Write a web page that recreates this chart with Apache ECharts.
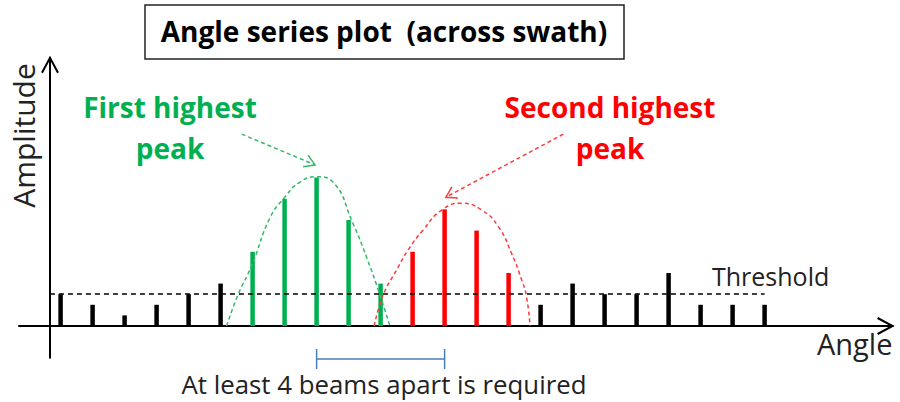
<!DOCTYPE html>
<html>
<head>
<meta charset="utf-8">
<script src="https://cdn.jsdelivr.net/npm/echarts@6/dist/echarts.min.js"></script>
<style>
html,body{margin:0;padding:0;background:#fff;}
#chart{width:900px;height:402px;}
</style>
</head>
<body>
<div id="chart"></div>
<script>
// ---------- data ----------
const beams = [1,2,3,4,5,6,7,8,9,10,11,12,13,14,15,16,17,18,19,20,21,22,23];
const amplitudes = [3,2,1,2,3,4,7,12,14,10,4,7,11,9,5,2,4,3,3,5,2,2,2];
const firstPeakBeams = [7,8,9,10,11];
const secondPeakBeams = [12,13,14,15];
const threshold = 3;
const thresholdFrom = 0.667;   // y-axis crossing, in beam units
const thresholdTo = 23;
const firstEnvelopeX = [6.19, 6.54, 6.98, 7.54, 8.01, 8.48, 9.0, 9.51, 10.13, 10.57, 10.98, 11.29];
const firstEnvelopeY = [0, 2.92, 5.75, 10.19, 12.17, 13.58, 14.08, 13.58, 9.72, 6.42, 2.92, 0];
const secondEnvelopeX = [10.80, 11.08, 11.50, 11.86, 12.33, 12.91, 13.53, 14.16, 14.68, 15.09, 15.41, 15.56, 15.67];
const secondEnvelopeY = [0, 2.92, 5.28, 7.17, 9.06, 10.94, 11.58, 10.94, 9.37, 6.86, 4.34, 2.76, 0];
const separationBeams = [9, 13];
const firstArrow = [[6.66, 18.1], [8.95, 15.2]];
const secondArrow = [[16.71, 18.1], [13.04, 12.15]];

const titleText = 'Angle series plot  (across swath)';
const firstLabel = ['First highest', 'peak'];
const secondLabel = ['Second highest', 'peak'];
const xName = 'Angle';
const yName = 'Amplitude';
const thresholdName = 'Threshold';
const separationText = 'At least 4 beams apart is required';

// ---------- styles ----------
const GREEN = '#00B050';
const GREEN_DASH = '#2FBA68';
const RED = '#FF0000';
const RED_DASH = '#FF3A3A';
const BLUE = '#4A7EBB';
const FONT = '"Open Sans", Lato, sans-serif';

const barData = beams.map((b, i) => {
  let color = '#000';
  if (firstPeakBeams.includes(b)) color = GREEN;
  if (secondPeakBeams.includes(b)) color = RED;
  return { value: [b, amplitudes[i]], itemStyle: { color } };
});

const chart = echarts.init(document.getElementById('chart'), null, { renderer: 'svg' });

const option = {
  animation: false,
  backgroundColor: '#fff',
  grid: { left: 19, top: 57.8, width: 873.6, height: 300, containLabel: false },
  xAxis: {
    type: 'value', min: -0.3, max: 27,
    axisLine: { show: true, onZero: true, lineStyle: { color: '#000', width: 2 } },
    axisTick: { show: false }, axisLabel: { show: false }, splitLine: { show: false }
  },
  yAxis: {
    type: 'value', min: -3, max: 25.3, offset: -31,
    axisLine: { show: true, onZero: false, lineStyle: { color: '#000', width: 2 } },
    axisTick: { show: false }, axisLabel: { show: false }, splitLine: { show: false }
  },
  series: [
    {
      type: 'bar', data: barData, barWidth: 4.5, z: 3,
      markLine: {
        silent: true, symbol: ['none', 'none'], label: { show: false },
        lineStyle: { color: '#000', type: [5, 4], width: 1.5 },
        data: [[{ coord: [thresholdFrom, threshold] }, { coord: [thresholdTo, threshold] }]]
      }
    },
    {
      type: 'line', smooth: 0.5, showSymbol: false, z: 4,
      data: firstEnvelopeX.map((x, i) => [x, firstEnvelopeY[i]]),
      lineStyle: { color: GREEN_DASH, type: [4, 3], width: 1.5 }
    },
    {
      type: 'line', smooth: 0.5, showSymbol: false, z: 4,
      data: secondEnvelopeX.map((x, i) => [x, secondEnvelopeY[i]]),
      lineStyle: { color: RED_DASH, type: [4, 3], width: 1.5 }
    }
  ]
};
chart.setOption(option);

const px = (p) => chart.convertToPixel({ gridIndex: 0 }, p);

function arrowHead(tip, from, len, ang) {
  const dx = from[0] - tip[0], dy = from[1] - tip[1];
  const a = Math.atan2(dy, dx);
  return [
    [tip[0] + len * Math.cos(a + ang), tip[1] + len * Math.sin(a + ang)],
    tip,
    [tip[0] + len * Math.cos(a - ang), tip[1] + len * Math.sin(a - ang)]
  ];
}

const g = [];
// axis arrowheads
const origin = px([0, 0]);
const yAxisX = 19 + 31;
const yTop = 57.8;
const xRight = 19 + 873.6;
g.push({ type: 'polyline', shape: { points: [[yAxisX - 8, yTop + 15], [yAxisX, yTop], [yAxisX + 8, yTop + 15]] },
  style: { stroke: '#000', lineWidth: 2, fill: null }, z: 10 });
g.push({ type: 'polyline', shape: { points: [[xRight - 15, origin[1] - 8], [xRight, origin[1]], [xRight - 15, origin[1] + 8]] },
  style: { stroke: '#000', lineWidth: 2, fill: null }, z: 10 });

// annotation arrows
[[firstArrow, GREEN_DASH], [secondArrow, RED_DASH]].forEach(([arr, col]) => {
  const s = px(arr[0]), e = px(arr[1]);
  g.push({ type: 'line', shape: { x1: s[0], y1: s[1], x2: e[0], y2: e[1] },
    style: { stroke: col, lineWidth: 1.5, lineDash: [4, 3] }, z: 10 });
  g.push({ type: 'polyline', shape: { points: arrowHead(e, s, 12, 0.55) },
    style: { stroke: col, lineWidth: 1.5, fill: null }, z: 10 });
});

// separation bracket
const b1 = px([separationBeams[0], 0]), b2 = px([separationBeams[1], 0]);
const by = origin[1] + 33;
g.push({ type: 'polyline', shape: { points: [[b1[0], by - 10], [b1[0], by + 10]] }, style: { stroke: BLUE, lineWidth: 1.5, fill: null } });
g.push({ type: 'polyline', shape: { points: [[b2[0], by - 10], [b2[0], by + 10]] }, style: { stroke: BLUE, lineWidth: 1.5, fill: null } });
g.push({ type: 'line', shape: { x1: b1[0], y1: by, x2: b2[0], y2: by }, style: { stroke: BLUE, lineWidth: 1.5 } });

// title box + text
g.push({ type: 'rect', shape: { x: 145, y: 5, width: 479, height: 54 }, style: { stroke: '#222', lineWidth: 1.5, fill: '#fff' }, z: 5 });
g.push({ type: 'text', x: 384, y: 31, z: 6,
  style: { text: titleText, font: 'bold 28px ' + FONT, fill: '#000', align: 'center', verticalAlign: 'middle' } });

// peak labels
const labelFont = 'bold 28px ' + FONT;
g.push({ type: 'text', x: 170, y: 107, style: { text: firstLabel[0], font: labelFont, fill: GREEN, align: 'center', verticalAlign: 'middle' } });
g.push({ type: 'text', x: 170, y: 148, style: { text: firstLabel[1], font: labelFont, fill: GREEN, align: 'center', verticalAlign: 'middle' } });
g.push({ type: 'text', x: 610, y: 107, style: { text: secondLabel[0], font: labelFont, fill: RED, align: 'center', verticalAlign: 'middle' } });
g.push({ type: 'text', x: 610, y: 148, style: { text: secondLabel[1], font: labelFont, fill: RED, align: 'center', verticalAlign: 'middle' } });

// other texts
g.push({ type: 'text', x: 712, y: 276, style: { text: thresholdName, font: '25px ' + FONT, fill: '#222', align: 'left', verticalAlign: 'middle' } });
g.push({ type: 'text', x: 817, y: 343, style: { text: xName, font: '29px ' + FONT, fill: '#222', align: 'left', verticalAlign: 'middle' } });
g.push({ type: 'text', x: 384, y: 384, style: { text: separationText, font: '25.8px ' + FONT, fill: '#222', align: 'center', verticalAlign: 'middle' } });
g.push({ type: 'text', x: 23, y: 135.5, rotation: Math.PI / 2,
  style: { text: yName, font: '30px ' + FONT, fill: '#222', align: 'center', verticalAlign: 'middle' } });

chart.setOption({ graphic: g });
</script>
</body>
</html>
